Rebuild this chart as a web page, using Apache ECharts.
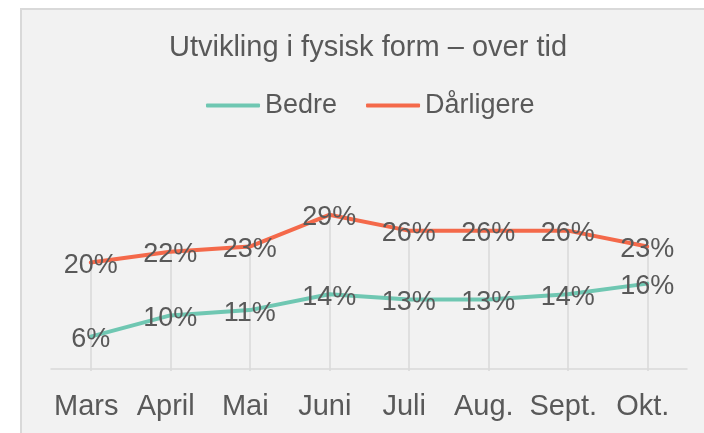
<!DOCTYPE html>
<html>
<head>
<meta charset="utf-8">
<script src="https://cdn.jsdelivr.net/npm/echarts@6/dist/echarts.min.js"></script>
<style>
  html, body { margin: 0; padding: 0; background: #ffffff; overflow: hidden; }
  .panel {
    position: absolute; left: 20px; top: 8px; width: 720px; height: 460px;
    background: #f2f2f2; border: 2px solid #d9d9d9; box-sizing: border-box;
  }
  #chart { position: absolute; left: 0; top: 0; width: 704px; height: 433px; }
</style>
</head>
<body>
<div class="panel"></div>
<div id="chart"></div>
<script>
  // måneder
  const months = ['Mars', 'April', 'Mai', 'Juni', 'Juli', 'Aug.', 'Sept.', 'Okt.']
  // andel (0-1)
  const better = [0.06, 0.10, 0.11, 0.14, 0.13, 0.13, 0.14, 0.16]
  const worse = [0.20, 0.22, 0.23, 0.29, 0.26, 0.26, 0.26, 0.23]

  const yMin = -0.005
  const yMax = 0.35
  const textColor = '#595959'
  const font = 'Liberation Sans, Arial, sans-serif'

  const chart = echarts.init(document.getElementById('chart'))

  // loddlinjer fra øverste linje ned til aksen
  const dropLines = worse.map((v, i) => [
    { coord: [i, v] },
    { coord: [i, yMin] }
  ])

  const pctLabel = {
    show: true,
    position: 'inside',
    offset: [0, 3],
    color: textColor,
    fontSize: 27,
    fontFamily: font,
    formatter: p => Math.round(p.value * 100) + '%'
  }

  chart.setOption({
    backgroundColor: 'transparent',
    animation: false,
    title: {
      text: 'Utvikling i fysisk form – over tid',
      left: 363,
      top: 28,
      textAlign: 'center',
      textStyle: { color: textColor, fontSize: 29, fontWeight: 'normal', fontFamily: font }
    },
    legend: {
      data: ['Bedre', 'Dårligere'],
      left: 201,
      top: 87,
      icon: 'roundRect',
      itemWidth: 54,
      itemHeight: 4,
      itemGap: 29,
      textStyle: { color: textColor, fontSize: 27, fontFamily: font }
    },
    grid: { left: 51, right: 17, top: 183, bottom: 62 },
    xAxis: {
      type: 'category',
      data: months,
      boundaryGap: true,
      axisLine: { lineStyle: { color: '#d9d9d9', width: 1.5 } },
      axisTick: { show: false },
      splitLine: { show: false },
      axisLabel: {
        color: textColor, fontSize: 29, fontFamily: font,
        margin: 21, interval: 0, padding: [0, 9, 0, 0]
      }
    },
    yAxis: {
      type: 'value',
      min: yMin,
      max: yMax,
      show: false,
      splitLine: { show: false }
    },
    series: [
      {
        name: 'Bedre',
        type: 'line',
        data: better,
        symbol: 'circle',
        symbolSize: 0,
        showSymbol: true,
        color: '#6fc7b2',
        lineStyle: { width: 4, color: '#6fc7b2', cap: 'round', join: 'round' },
        label: pctLabel,
        z: 3,
        markLine: {
          silent: true,
          symbol: 'none',
          z: 1,
          label: { show: false },
          lineStyle: { color: '#d9d9d9', width: 1.5, type: 'solid' },
          data: dropLines
        }
      },
      {
        name: 'Dårligere',
        type: 'line',
        data: worse,
        symbol: 'circle',
        symbolSize: 0,
        showSymbol: true,
        color: '#f4694a',
        lineStyle: { width: 4, color: '#f4694a', cap: 'round', join: 'round' },
        label: pctLabel,
        z: 3
      }
    ]
  })
</script>
</body>
</html>
